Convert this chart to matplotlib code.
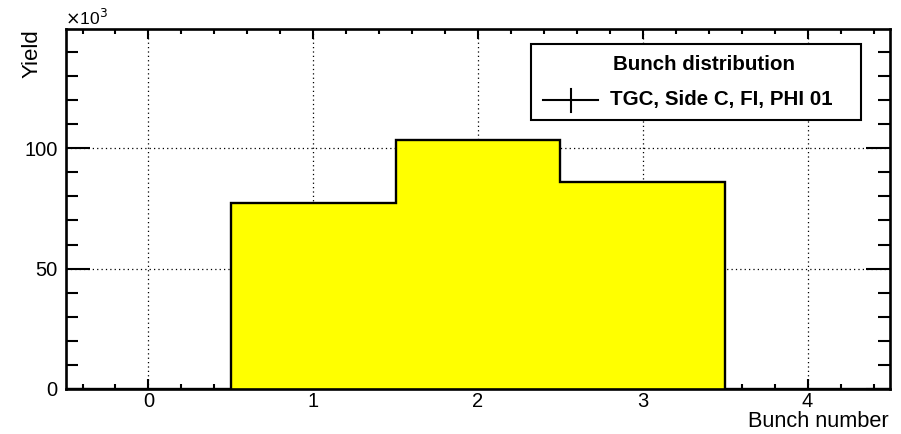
import numpy as np
import matplotlib.pyplot as plt
from matplotlib.patches import Rectangle
from matplotlib.lines import Line2D
from matplotlib.ticker import MultipleLocator

plt.rcParams["font.family"] = ["Liberation Sans", "DejaVu Sans"]

# ── data ──────────────────────────────────────────────────────────────────────
bunch_edges = np.array([-0.5, 0.5, 1.5, 2.5, 3.5, 4.5])
bunch_yield = np.array([0, 77200, 103600, 85900, 0])   # entries per bunch
x_ticks     = [0, 1, 2, 3, 4]
y_ticks     = [0, 50, 100]

fig = plt.figure(figsize=(9.01, 4.34), dpi=100)
ax = fig.add_axes([0.0733, 0.1037, 0.9145, 0.8295])

ax.stairs(bunch_yield / 1e3, bunch_edges, fill=True,
          facecolor="#ffff00", edgecolor="none", zorder=2)
ax.stairs(bunch_yield / 1e3, bunch_edges, fill=False,
          color="black", linewidth=1.7, baseline=0, zorder=3)

ax.set_xlim(-0.5, 4.5)
ax.set_ylim(0, 149.5)
ax.set_xticks(x_ticks)
ax.set_yticks(y_ticks)
ax.xaxis.set_minor_locator(MultipleLocator(0.2))
ax.yaxis.set_minor_locator(MultipleLocator(10))
ax.tick_params(which="both", direction="in", top=True, right=True,
               labelsize=14.5, width=1.5)
ax.tick_params(axis="x", which="major", length=7.2, pad=2)
ax.tick_params(axis="x", which="minor", length=3.6)
ax.tick_params(axis="y", which="major", length=17, pad=6)
ax.tick_params(axis="y", which="minor", length=8.6)
ax.grid(True, which="major", linestyle=(0, (1, 2.5)), color="black",
        linewidth=0.9, zorder=1)
ax.set_axisbelow(True)
for s in ax.spines.values():
    s.set_linewidth(1.9)
    s.set_zorder(4)

ax.set_xlabel("Bunch number", fontsize=15.7, loc="right")
ax.xaxis.set_label_coords(0.998, -(427 - 389) / 360)
ax.xaxis.label.set_va("baseline")
ax.set_ylabel("Yield", fontsize=16, loc="top")
ax.yaxis.set_label_coords(-0.029, 1.0)
fig.text(0.0722, 1 - 25 / 434, r"$\times$10$^{3}$", fontsize=12.5,
         ha="left", va="baseline")

# ── legend box ───────────────────────────────────────────────────────────────
lx0, lx1 = 531 / 901, 861 / 901
ly0, ly1 = 1 - 120 / 434, 1 - 44 / 434
fig.patches.append(Rectangle((lx0, ly0), lx1 - lx0, ly1 - ly0,
                             transform=fig.transFigure, facecolor="white",
                             edgecolor="black", linewidth=1.5, zorder=5))
fig.text((lx0 + lx1) / 2 + 8 / 901, 1 - 65 / 434, "Bunch distribution",
         fontsize=14.8, fontweight="bold", ha="center", va="center", zorder=6)
ey = 1 - 100 / 434
fig.lines.append(Line2D([543 / 901, 598 / 901], [ey, ey], color="black",
                        linewidth=1.5, transform=fig.transFigure, zorder=6))
fig.lines.append(Line2D([571 / 901, 571 / 901], [1 - 89 / 434, 1 - 112 / 434],
                        color="black", linewidth=1.5,
                        transform=fig.transFigure, zorder=6))
fig.text(610 / 901, ey, "TGC, Side C, FI, PHI 01", fontsize=14.8,
         fontweight="bold", ha="left", va="center", zorder=6)

fig.savefig("out.png", dpi=100)
